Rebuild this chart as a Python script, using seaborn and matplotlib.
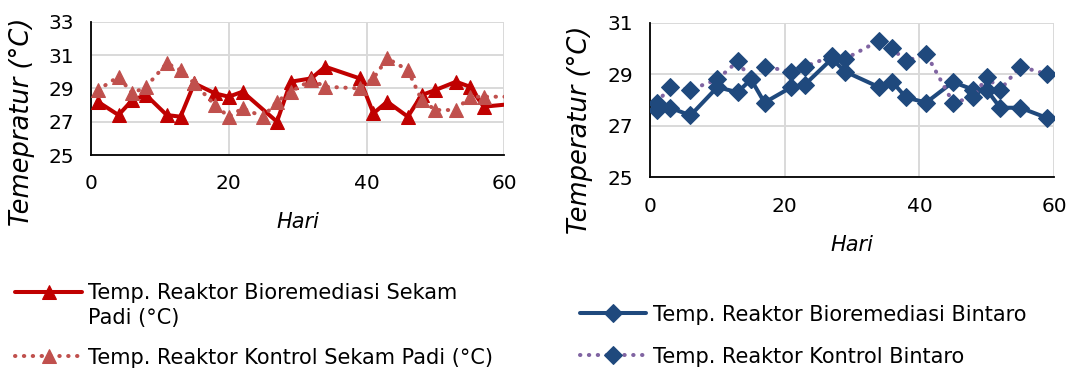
import matplotlib
matplotlib.use("Agg")
import matplotlib.pyplot as plt
import seaborn as sns

# Left panel: sekam padi reactors
days_bio_sekam = [1, 4, 6, 8, 11, 13, 15, 18, 20, 22, 27, 29, 32, 34, 39, 41, 43, 46, 48, 50, 53, 55, 57, 62]
temp_bio_sekam = [28.2, 27.4, 28.3, 28.6, 27.4, 27.3, 29.3, 28.7, 28.5, 28.8, 27.0, 29.4, 29.6, 30.3,
                  29.6, 27.5, 28.2, 27.3, 28.6, 28.9, 29.4, 29.1, 27.9, 28.1]
days_kontrol_sekam = [1, 4, 6, 8, 11, 13, 15, 18, 20, 22, 25, 27, 29, 32, 34, 39, 41, 43, 46, 48, 50, 53, 55, 57, 62]
temp_kontrol_sekam = [28.9, 29.7, 28.7, 29.1, 30.5, 30.1, 29.3, 28.0, 27.3, 27.8, 27.3, 28.2, 28.8, 29.5,
                      29.1, 29.0, 29.6, 30.8, 30.1, 28.3, 27.7, 27.7, 28.5, 28.5, 28.5]

# Right panel: bintaro reactors
days_bintaro = [1, 3, 6, 10, 13, 15, 17, 21, 23, 27, 29, 34, 36, 38, 41, 45, 48, 50, 52, 55, 59]
temp_bio_bintaro = [27.6, 27.7, 27.4, 28.5, 28.3, 28.8, 27.9, 28.5, 28.6, 29.6, 29.1, 28.5, 28.7, 28.1,
                    27.9, 28.7, 28.4, 28.4, 27.7, 27.7, 27.3]
temp_kontrol_bintaro = [27.9, 28.5, 28.4, 28.8, 29.5, 28.8, 29.3, 29.1, 29.3, 29.7, 29.6, 30.3, 30.0, 29.5,
                        29.8, 27.9, 28.1, 28.9, 28.4, 29.3, 29.0]

x_ticks = [0, 20, 40, 60]
y_ticks_left = [25, 27, 29, 31, 33]
y_ticks_right = [25, 27, 29, 31]

sns.set_style("white")
plt.rcParams["font.family"] = ["DejaVu Sans"]
plt.rcParams.update({"text.color": "black", "axes.labelcolor": "black",
                     "xtick.color": "black", "ytick.color": "black"})

fig = plt.figure(figsize=(10.7, 3.7), dpi=100)
ax1 = fig.add_axes([0.085, 0.581, 0.3863, 0.3603])
ax2 = fig.add_axes([0.6075, 0.5208, 0.3776, 0.4178])

dotted = dict(linestyle=(0, (0.1, 2.1)), dash_capstyle="round", linewidth=2.9)

sns.lineplot(x=days_bio_sekam, y=temp_bio_sekam, ax=ax1, color="#C00000", linewidth=2.9,
             marker="^", markersize=10.5, markeredgecolor="#C00000",
             label="Temp. Reaktor Bioremediasi Sekam", zorder=3)
sns.lineplot(x=days_kontrol_sekam, y=temp_kontrol_sekam, ax=ax1, color="#C0504D",
             marker="^", markersize=10.5, markeredgecolor="#C0504D",
             label="Temp. Reaktor Kontrol Sekam Padi (°C)", zorder=4, **dotted)

sns.lineplot(x=days_bintaro, y=temp_bio_bintaro, ax=ax2, color="#1F497D", linewidth=2.9,
             marker="D", markersize=9.5, markeredgecolor="#1F497D",
             label="Temp. Reaktor Bioremediasi Bintaro", zorder=3)
sns.lineplot(x=days_bintaro, y=temp_kontrol_bintaro, ax=ax2, color="#8064A2",
             marker="D", markersize=9.5, markerfacecolor="#1F497D", markeredgecolor="#1F497D",
             label="Temp. Reaktor Kontrol Bintaro", zorder=4, **dotted)

panels = [(ax1, y_ticks_left, "Temepratur (°C)", (-0.135, 0.25), -0.43),
          (ax2, y_ticks_right, "Temperatur (°C)", (-0.141, 0.31), -0.37)]
for ax, yt, ylab, ypos, xlab_y in panels:
    ax.set_xlim(0, 60)
    ax.set_ylim(yt[0], yt[-1])
    ax.set_xticks(x_ticks)
    ax.set_yticks(yt)
    ax.grid(True, color="#D9D9D9", linewidth=1.4)
    for s in ["top", "right"]:
        ax.spines[s].set_visible(False)
    for s in ["left", "bottom"]:
        ax.spines[s].set_color("black")
        ax.spines[s].set_linewidth(1.3)
    ax.tick_params(direction="out", length=5, width=1.3, color="black", labelsize=14.5)
    ax.tick_params(axis="x", pad=9)
    ax.tick_params(axis="y", pad=7)
    ax.set_xlabel("Hari", fontsize=15, style="italic")
    ax.xaxis.set_label_coords(0.5, xlab_y)
    ax.set_ylabel(ylab, fontsize=18.5, style="italic")
    ax.yaxis.set_label_coords(*ypos)
    ax.get_legend().remove()

h1, l1 = ax1.get_legend_handles_labels()
leg1 = fig.legend(h1, l1, loc="upper left", bbox_to_anchor=(0.0065, 0.258), frameon=False,
                  fontsize=15, handlelength=3.2, handletextpad=0.3, labelspacing=2.15,
                  borderaxespad=0)

h2, l2 = ax2.get_legend_handles_labels()
leg2 = fig.legend(h2, l2, loc="upper left", bbox_to_anchor=(0.534, 0.199), frameon=False,
                  fontsize=15, handlelength=3.2, handletextpad=0.3, labelspacing=1.05,
                  borderaxespad=0)

# second line of the wrapped first legend label, aligned under its text
fig.canvas.draw()
bb = leg1.get_texts()[0].get_window_extent()
fig.text(bb.x0 / fig.bbox.width, 1 - 318 / 370, "Padi (°C)", fontsize=15, va="center", ha="left")

fig.savefig("out.png", dpi=100)
